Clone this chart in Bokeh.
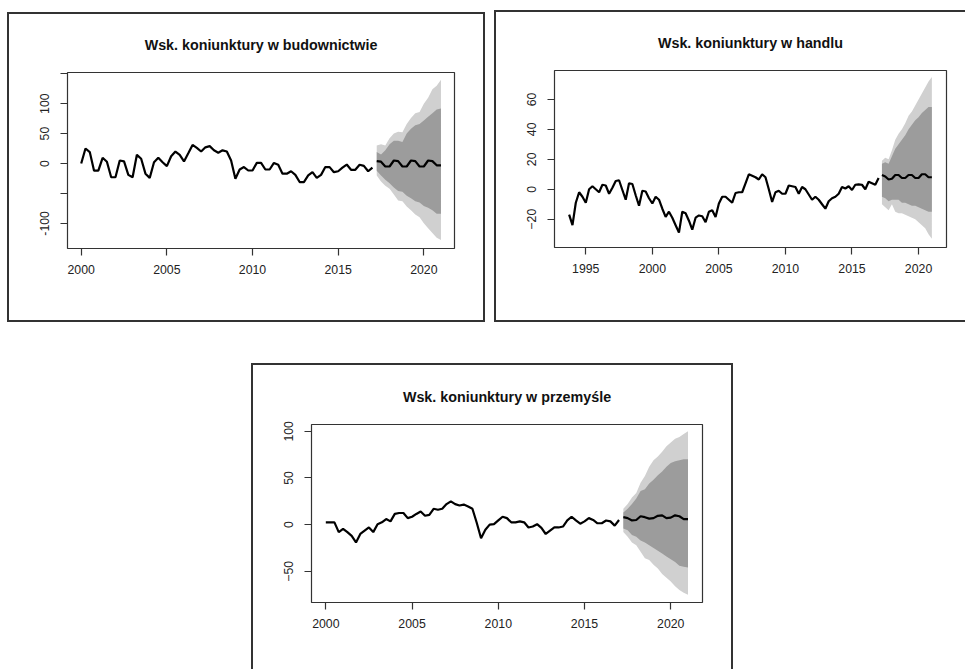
import numpy as np
from bokeh.plotting import figure
from bokeh.models import Range1d, FixedTicker, Spacer
from bokeh.layouts import row, column
from bokeh.embed import file_html
from bokeh.resources import INLINE

# ---------------- data (quarterly) ----------------
# Construction (budownictwo)
bud_title = "Wsk. koniunktury w budownictwie"
bud_start = 2000.0
bud_hist = [0, 25, 19, -12,
            -12, 9.5, 3, -23,
            -23, 5, 3.5, -19,
            -23, 14.5, 8, -17,
            -24, 2, 9.5, 2,
            -4.5, 12, 20, 14.5,
            3.5, 17, 31, 26,
            20, 27, 29, 22,
            18, 22, 20, 5,
            -25.5, -10, -6, -11.7,
            -11.7, 1, 1, -10,
            -10, 1, -2, -17,
            -17, -13, -19, -31,
            -31, -20, -14.5, -24,
            -19, -6, -6, -14.5,
            -13, -7, -1.7, -10.5,
            -10.5, -2, -4, -13,
            -7]
bud_fc_start = 2017.25
bud_mean = [4, 3, -5, -5, 5, 4, -5, -5, 5, 4, -5, -5, 5, 4, -3, -3]
bud_hi95 = [30, 32, 30, 42, 50, 53, 52, 66, 76, 84, 86, 100, 110, 124, 130, 140]
bud_hi80 = [19, 15, 22, 32, 38, 38, 36, 50, 58, 64, 66, 72, 78, 84, 90, 92]
bud_lo80 = [-12, -20, -27, -33, -40, -46, -47, -54, -58, -63, -65, -71, -74, -78, -84, -84]
bud_lo95 = [-20, -30, -37, -42, -52, -62, -63, -72, -78, -85, -90, -100, -108, -116, -124, -128]
bud_xticks = [2000, 2005, 2010, 2015, 2020]
bud_yticks = [-100, -50, 0, 50, 100, 150]
bud_ylabels = {-100: "-100", -50: "", 0: "0", 50: "50", 100: "100", 150: ""}

# Trade (handel)
han_title = "Wsk. koniunktury w handlu"
han_start = 1993.75
han_hist = [-17,
            -24, -9, -2, -5,
            -9, 0, 2, 0,
            -2, 3, 2.5, -3,
            1, 5.5, 6, -0.5,
            -7, 4, 3.5, -4,
            -11, -1, -1.5, -6,
            -9.5, -5, -7, -13,
            -18.5, -15, -19, -24,
            -29, -15, -16, -21,
            -27, -19, -17.5, -18,
            -22, -15, -14, -18.5,
            -9.5, -5, -5, -7,
            -9, -2.5, -2, -2,
            4, 10, 9, 8,
            6.5, 10, 8, 0,
            -8.5, -2, -1, -3,
            -3, 2.5, 2, 1.5,
            -3, 1.5, 0, -3.5,
            -7, -5, -7, -10,
            -13, -8, -6, -5,
            -3, 1.5, 0.5, 2,
            -0.5, 3, 3.3, 3,
            0, 5, 4, 3,
            7.5]
han_fc_start = 2017.25
han_mean = [9.5, 8.5, 6.5, 7, 9.5, 9.5, 7.5, 7.5, 9.5, 9.5, 7.5, 7.5, 10, 10, 8, 8]
han_hi95 = [19, 21, 20, 26, 33, 37, 40, 44, 49, 52, 56, 60, 64, 68, 72, 75]
han_hi80 = [17, 18, 17, 22, 27, 30, 33, 36, 40, 43, 46, 48, 51, 53, 55, 55]
han_lo80 = [-5, -6, -8, -7, -7, -7, -9, -9, -10, -11, -11, -12, -13, -14, -15, -15]
han_lo95 = [-10, -12, -14, -10, -15, -16, -16, -17, -18, -19, -20, -22, -24, -26, -30, -33]
han_xticks = [1995, 2000, 2005, 2010, 2015, 2020]
han_yticks = [-20, 0, 20, 40, 60]
han_ylabels = {}

# Industry (przemysl)
prz_title = "Wsk. koniunktury w przemyśle"
prz_start = 2000.0
prz_hist = [2.5, 2.5, 2.5, -8,
            -4.5, -8, -12, -19,
            -10, -6.5, -3, -8,
            0.5, 2.5, 6, 3.5,
            11.5, 12.5, 12.5, 7,
            8.5, 11.5, 14, 9.5,
            10.5, 17, 16, 17,
            22, 25, 22, 20.5,
            21.5, 19.5, 17, 2,
            -14.5, -5.5, 0, 0.5,
            4.5, 8.5, 7, 2.5,
            2.5, 3.5, 2.5, -3,
            -2, 0.5, -3.5, -10,
            -6.5, -3, -3, -2,
            4.5, 8.5, 4.5, 1,
            3.5, 7, 5, 1.5,
            1.5, 4.5, 3.5, -1,
            5]
prz_fc_start = 2017.25
prz_mean = [8, 7, 4.5, 5, 9, 8, 6.5, 7, 9.5, 10, 7, 7.5, 10, 9, 6, 6]
prz_hi95 = [17, 22, 29, 34, 45, 52, 62, 69, 73, 78, 84, 88, 92, 94, 97, 100]
prz_hi80 = [13, 17, 22, 28, 36, 38, 44, 48, 53, 57, 62, 66, 68, 69, 70, 70]
prz_lo80 = [-4, -6, -11, -13, -17, -19, -22, -25, -28, -31, -34, -37, -40, -44, -45, -46]
prz_lo95 = [-8, -13, -19, -22, -29, -36, -38, -43, -47, -53, -57, -61, -66, -70, -73, -75]
prz_xticks = [2000, 2005, 2010, 2015, 2020]
prz_yticks = [-50, 0, 50, 100]
prz_ylabels = {}

FREQ = 4
FONT = "Liberation Sans"
DARK = "#9c9c9c"
LIGHT = "#d0d0d0"
EDGE = "#333333"


def qtime(start, n):
    return start + np.arange(n) / FREQ


def make_panel(title, start, hist, fc_start, mean, lo80, hi80, lo95, hi95,
               xr, yr, xticks, yticks, ylabels, width, height, borders, sides):
    left, right, top, bottom = borders
    p = figure(width=width, height=height, output_backend="svg",
               toolbar_location=None, x_range=Range1d(*xr), y_range=Range1d(*yr),
               min_border_left=left, min_border_right=right,
               min_border_top=top, min_border_bottom=bottom,
               title=title)
    p.border_fill_color = None
    p.background_fill_color = "white"
    p.outline_line_color = EDGE
    p.outline_line_width = 1.2
    p.xgrid.visible = False
    p.ygrid.visible = False

    p.title.align = "center"
    p.title.text_font = FONT
    p.title.text_font_style = "bold"
    p.title.text_font_size = "14.3px"
    p.title.text_color = "#111111"
    p.title.standoff = 39

    tf = qtime(fc_start, len(mean))
    p.varea(x=tf, y1=lo95, y2=hi95, fill_color=LIGHT)
    p.varea(x=tf, y1=lo80, y2=hi80, fill_color=DARK)
    p.line(qtime(start, len(hist)), hist, line_color="black", line_width=2.2)
    p.line(tf, mean, line_color="black", line_width=2.2)

    for ax in (p.xaxis[0], p.yaxis[0]):
        ax.axis_line_color = None
        ax.major_tick_in = 0
        ax.major_tick_out = 7
        ax.major_tick_line_color = EDGE
        ax.major_tick_line_width = 1.2
        ax.minor_tick_line_color = None
        ax.major_label_text_font = FONT
        ax.major_label_text_font_size = "12.3px"
        ax.major_label_text_color = "#222222"
    p.xaxis[0].ticker = FixedTicker(ticks=xticks)
    p.xaxis[0].major_label_standoff = 9
    p.yaxis[0].ticker = FixedTicker(ticks=yticks)
    p.yaxis[0].major_label_orientation = "vertical"
    p.yaxis[0].major_label_standoff = 11
    if ylabels:
        p.yaxis[0].major_label_overrides = ylabels

    shadows = []
    w = "2px"
    if "l" in sides:
        shadows.append(f"inset {w} 0 0 0 {EDGE}")
    if "r" in sides:
        shadows.append(f"inset -{w} 0 0 0 {EDGE}")
    if "t" in sides:
        shadows.append(f"inset 0 {w} 0 0 {EDGE}")
    if "b" in sides:
        shadows.append(f"inset 0 -{w} 0 0 {EDGE}")
    p.styles = {"box-shadow": ", ".join(shadows)}
    return p


p1 = make_panel(bud_title, bud_start, bud_hist, bud_fc_start, bud_mean,
                bud_lo80, bud_hi80, bud_lo95, bud_hi95,
                (1999.2, 2021.79), (-142, 152), bud_xticks, bud_yticks, bud_ylabels,
                478, 310, (60, 31, 60, 74), "lrtb")
p2 = make_panel(han_title, han_start, han_hist, han_fc_start, han_mean,
                han_lo80, han_hi80, han_lo95, han_hi95,
                (1992.65, 2022.1), (-38.9, 79.3), han_xticks, han_yticks, han_ylabels,
                471, 312, (60, 19, 60, 75), "ltb")
p3 = make_panel(prz_title, prz_start, prz_hist, prz_fc_start, prz_mean,
                prz_lo80, prz_hi80, prz_lo95, prz_hi95,
                (1999.17, 2021.84), (-83.4, 107.3), prz_xticks, prz_yticks, prz_ylabels,
                482, 306, (60, 31, 61, 67), "lrt")

top = row(Spacer(width=7), column(Spacer(height=12), p1), Spacer(width=9),
          column(Spacer(height=10), p2))
bottom = row(Spacer(width=251), p3)
layout = column(top, Spacer(height=41), bottom)

open("out.html", "w").write(file_html(layout, INLINE))
